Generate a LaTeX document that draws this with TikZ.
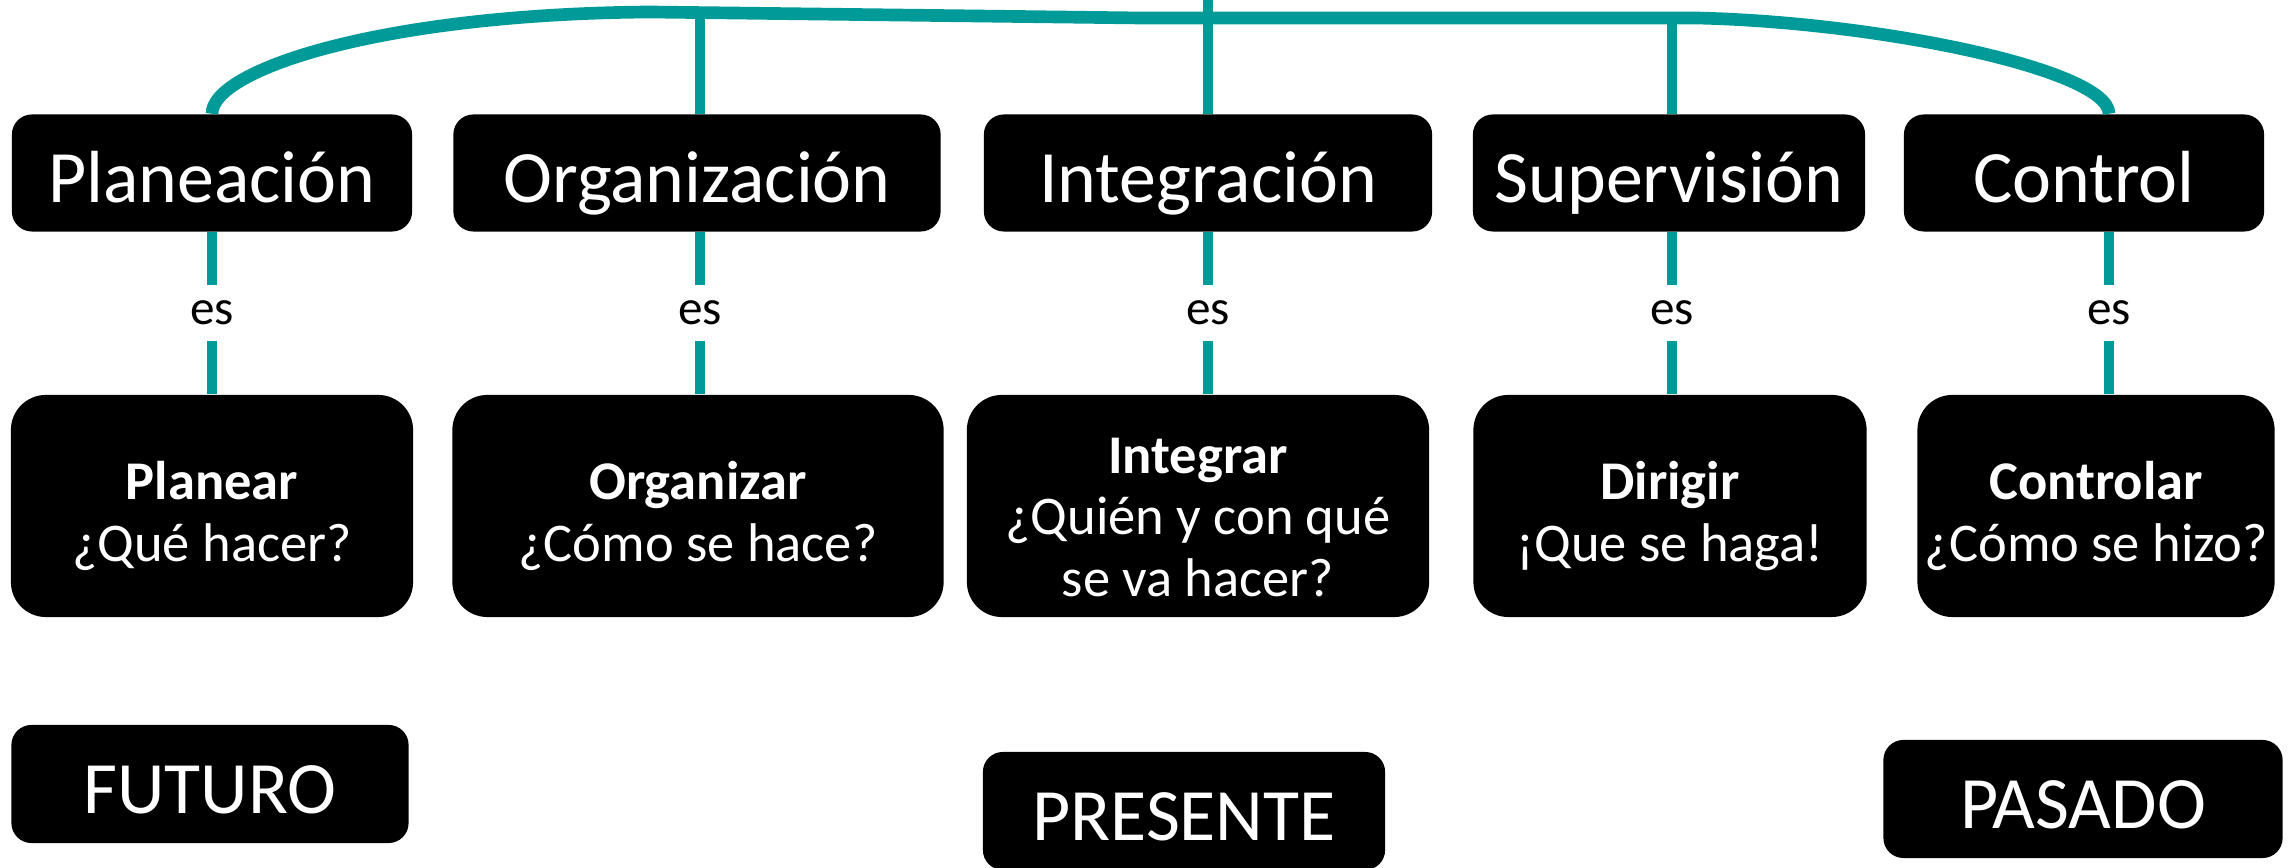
\documentclass[tikz,border=0pt]{standalone}
\usepackage{fontspec}
\setmainfont{Carlito}
\definecolor{linkteal}{RGB}{0,155,153}
\tikzstyle{link} = [draw=linkteal, line width=3.1pt]
\newcommand{\padtop}{\rule{0pt}{16.5pt}}

\begin{document}
\begin{tikzpicture}[
    x=0.01cm, y=-0.01cm,
    head/.style={fill=black, text=white, rounded corners=0.2cm, minimum height=1.17cm, inner sep=0pt, text height=17pt, text depth=0pt, font=\fontsize{21}{25}\selectfont},
    task/.style={fill=black, text=white, rounded corners=0.35cm, minimum height=2.22cm, inner sep=0pt, align=center, font=\fontsize{15.5}{17.5}\selectfont},
    time/.style={fill=black, text=white, rounded corners=0.2cm, minimum width=4cm, minimum height=1.18cm, inner sep=0pt, text height=16.5pt, text depth=0pt, font=\fontsize{21}{25}\selectfont},
    verb/.style={fill=white, text=black, inner sep=1pt, minimum height=16pt, font=\fontsize{14}{16}\selectfont}
  ]
  \useasboundingbox (0,0) rectangle (2290,868);

  % stages
  \node[head, minimum width=4.00cm] (plan) at (212,173) {Planeación};
  \node[head, minimum width=4.87cm] (org) at (697,173) {Organización};
  \node[head, minimum width=4.48cm] (integ) at (1208,173) {Integración};
  \node[head, minimum width=3.92cm] (sup) at (1669,173) {Supervisión};
  \node[head, minimum width=3.60cm] (ctl) at (2084,173) {Control};

  % what each stage is
  \node[task, minimum width=4.02cm] (planq) at (212,506) {\padtop\textbf{Planear}\\¿Qué hacer?};
  \node[task, minimum width=4.91cm] (orgq) at (698,506) {\padtop\textbf{Organizar}\\¿Cómo se hace?};
  \node[task, minimum width=4.62cm] (integq) at (1198,506) {\padtop\textbf{Integrar}\\¿Quién y con qué\\se va hacer?};
  \node[task, minimum width=3.93cm] (supq) at (1670,506) {\padtop\textbf{Dirigir}\\¡Que se haga!};
  \node[task, minimum width=3.57cm] (ctlq) at (2096,506) {\padtop\textbf{Controlar}\\¿Cómo se hizo?};

  % time
  \node[time, minimum width=3.97cm] (fut) at (210,784) {FUTURO};
  \node[time, minimum width=4.02cm] (pres) at (1184,811) {PRESENTE};
  \node[time, minimum width=3.99cm] (pas) at (2083,799) {PASADO};

  % top line
  \coordinate (ctlx) at (2109,0);
  \coordinate (orgj) at (700,14);
  \coordinate (integj) at (1208,0);
  \coordinate (supj) at (1672,18);
  \draw[link, line width=3.6pt] (plan.north) .. controls (212,70) and (380,14) .. (650,12)
    -- (1140,18) -- (1696,18) .. controls (1880,22) and (2109,70) .. (ctlx |- ctl.north);
  \draw[link] (orgj |- org.north) -- (orgj);
  \draw[link] (integ.north) -- (integj);
  \draw[link] (supj |- sup.north) -- (supj);

  % es
  \draw[link] (plan.south) -- node[verb] {es} (plan.south |- planq.north);
  \draw[link] (orgj |- org.south) -- node[verb] {es} (orgj |- orgq.north);
  \draw[link] (integ.south) -- node[verb] {es} (integ.south |- integq.north);
  \draw[link] (supj |- sup.south) -- node[verb] {es} (supj |- supq.north);
  \draw[link] (ctlx |- ctl.south) -- node[verb] {es} (ctlx |- ctlq.north);
\end{tikzpicture}
\end{document}
